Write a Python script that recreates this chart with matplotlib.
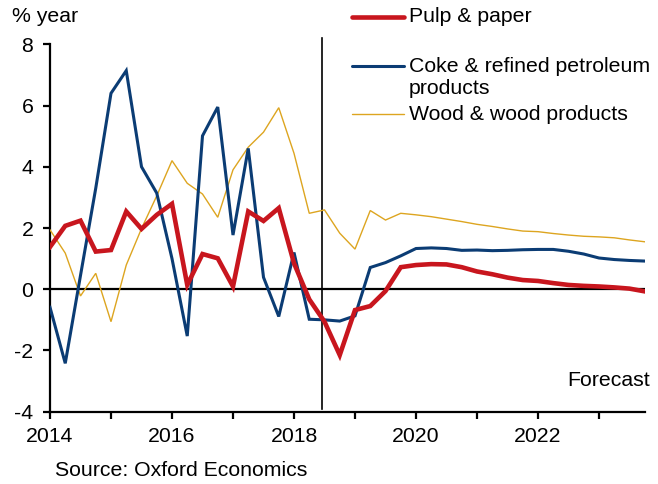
import numpy as np
import matplotlib
matplotlib.use("Agg")
import matplotlib.pyplot as plt
from matplotlib.lines import Line2D

plt.rcParams['font.family'] = ['Liberation Sans', 'DejaVu Sans']
plt.rcParams['axes.unicode_minus'] = False

start_year = 2014
pulp = [1.38, 2.07, 2.24, 1.23, 1.28, 2.54, 1.97, 2.43, 2.79, 0.14,
        1.15, 1.01, 0.09, 2.54, 2.23, 2.65, 0.85, -0.33, -1.06, -2.15,
        -0.68, -0.55, -0.06, 0.72, 0.79, 0.82, 0.81, 0.72, 0.58, 0.49,
        0.38, 0.30, 0.27, 0.20, 0.14, 0.11, 0.09, 0.06, 0.02, -0.07]
coke = [-0.59, -2.42, 0.45, 3.30, 6.40, 7.14, 4.00, 3.14, 1.00, -1.53,
        5.01, 5.95, 1.77, 4.60, 0.39, -0.89, 1.20, -0.98, -1.00, -1.04,
        -0.87, 0.71, 0.87, 1.09, 1.33, 1.35, 1.33, 1.27, 1.28, 1.26,
        1.27, 1.29, 1.30, 1.30, 1.24, 1.15, 1.02, 0.97, 0.94, 0.92]
wood = [1.94, 1.18, -0.22, 0.52, -1.06, 0.79, 1.98, 3.05, 4.20, 3.46,
        3.11, 2.35, 3.90, 4.64, 5.13, 5.93, 4.44, 2.48, 2.59, 1.83,
        1.31, 2.57, 2.26, 2.48, 2.43, 2.37, 2.29, 2.21, 2.12, 2.05,
        1.97, 1.90, 1.88, 1.82, 1.77, 1.73, 1.71, 1.68, 1.61, 1.55]
x = start_year + np.arange(len(pulp)) * 0.25

labels = ["Pulp & paper", "Coke & refined petroleum\nproducts", "Wood & wood products"]
colors = ["#C8161E", "#0B3C74", "#DDA520"]
widths = [3.3, 2.2, 1.0]
forecast_start = 2018.46
FS = 15.3

fig = plt.figure(figsize=(6.58, 4.84), dpi=100)
ax = fig.add_axes([50/658, 1-411.7/484, (644.75-50)/658, (411.7-44.3)/484])

ax.axhline(0, color='black', lw=1.6, zorder=1)
for ser, c, w in zip([wood, coke, pulp], colors[::-1], widths[::-1]):
    ax.plot(x, ser, color=c, lw=w, zorder=3, solid_joinstyle='miter')

ax.plot([forecast_start, forecast_start], [-3.9, 8.22], color='black', lw=1.2,
        clip_on=False, zorder=2)

ax.set_xlim(2014, 2023.75)
ax.set_ylim(-4, 8)
ax.set_yticks(np.arange(-4, 9, 2))
ax.set_xticks(np.arange(2014, 2024, 2))
ax.set_xticks(np.arange(2015, 2024, 2), minor=True)
for s in ['top', 'right']:
    ax.spines[s].set_visible(False)
for s in ['left', 'bottom']:
    ax.spines[s].set_linewidth(1.6)
ax.tick_params(axis='both', which='both', direction='out', length=5, width=1.6,
               labelsize=FS, colors='black')
ax.tick_params(axis='y', pad=7)
ax.tick_params(axis='x', pad=6)

fig.text(650/658, 1-381/484, "Forecast", ha='right', va='center', fontsize=FS)

fig.text(12/658, 1-16/484, "% year", ha='left', va='center', fontsize=FS)
fig.text(55/658, 1-470/484, "Source: Oxford Economics", ha='left', va='center',
         fontsize=FS)

# legend (handle aligned with the first line of each label)
leg_y = [17, 66, 114]
line_gap = 23
for lab, c, w, yy in zip(labels, colors, widths, leg_y):
    fy = 1 - yy/484
    fig.add_artist(Line2D([352/658, 404/658], [fy, fy], color=c, lw=w,
                          solid_capstyle='round', transform=fig.transFigure))
    for k, part in enumerate(lab.split("\n")):
        fig.text(409/658, 1-(yy + k*line_gap)/484, part, ha='left', va='center',
                 fontsize=FS)

fig.savefig("out.png", dpi=100)
